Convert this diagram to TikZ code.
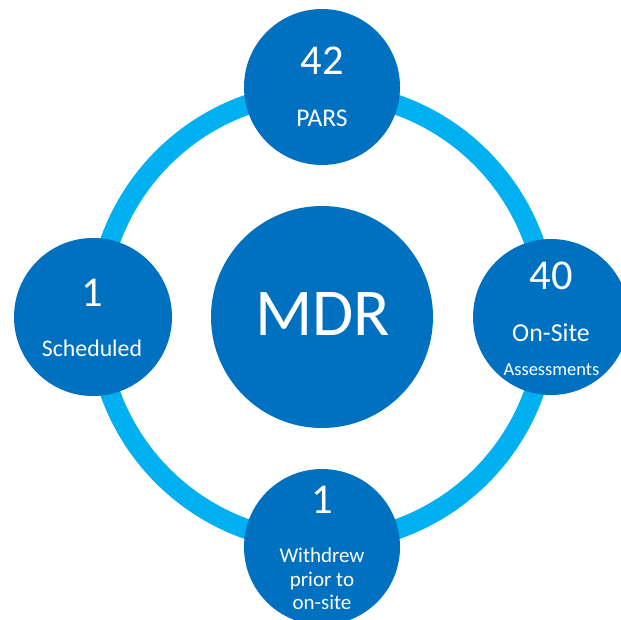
\documentclass[tikz,border=0pt]{standalone}
\usepackage{fontspec}
\setmainfont{Carlito}
\definecolor{darkblue}{HTML}{0070C0}
\definecolor{ringblue}{HTML}{00B0F0}
\begin{document}
\begin{tikzpicture}[x=1pt,y=-1pt,
  bubble/.style={circle,fill=darkblue,draw=none,inner sep=0pt},
  txt/.style={text=white,anchor=base,inner sep=0pt,align=center},
  num/.style={txt,font=\fontsize{42.5}{46}\selectfont}]
\useasboundingbox (0,0) rectangle (621,620);
\clip (0,0) rectangle (621,620);
\coordinate (c) at (322,317);
\draw[ringblue,line width=20pt] (c) circle[radius=225pt];
\node[bubble,minimum size=222pt] (mdr) at (c) {};
\node[bubble,minimum size=156pt] (top) at (322,87) {};
\node[bubble,minimum size=158pt] (left) at (93,317) {};
\node[bubble,minimum size=156pt] (right) at (551,317) {};
\node[bubble,minimum size=156pt] (bottom) at (322,547) {};
\node[txt,font=\fontsize{67}{72}\selectfont] (tmdr) at (322.5,335) {MDR};
\node[num] (t42) at (322,75) {42};
\node[txt,font=\fontsize{25.5}{28}\selectfont] (tpars) at (322,126.5) {PARS};
\node[num] (t1l) at (92,306) {1};
\node[txt,font=\fontsize{23.8}{26}\selectfont] (tsch) at (92,356.5) {Scheduled};
\node[num] (t40) at (551,290) {40};
\node[txt,font=\fontsize{25.8}{28}\selectfont] (tons) at (551,341.5) {On-Site};
\node[txt,font=\fontsize{18.5}{20}\selectfont] (tass) at (551.5,375) {Assessments};
\node[num] (t1b) at (322,513) {1};
\node[txt,font=\fontsize{21}{23.5}\selectfont] (twd) at (322,562) {Withdrew};
\node[txt,font=\fontsize{21}{23.5}\selectfont] (tpr) at (322,586) {prior to};
\node[txt,font=\fontsize{21}{23.5}\selectfont] (tos) at (322,609) {on-site};
\end{tikzpicture}
\end{document}
